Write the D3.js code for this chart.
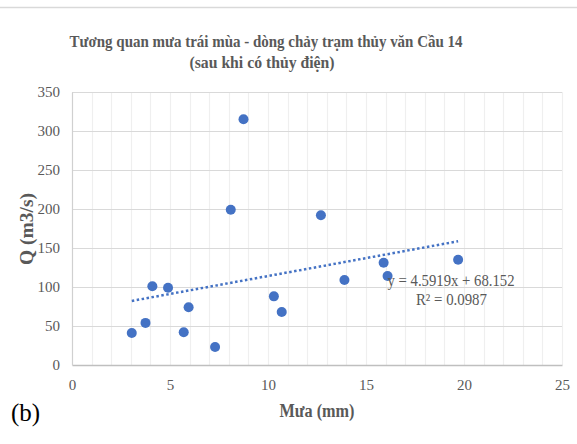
<!DOCTYPE html>
<html>
<head>
<meta charset="utf-8">
<script src="https://cdn.jsdelivr.net/npm/d3@7"></script>
<style>
  body { margin: 0; background: #fff; }
  text { font-family: "Liberation Serif", "Times New Roman", serif; }
</style>
</head>
<body>
<div id="chart"></div>
<script>
// DATA: rainfall (mm) vs discharge (m3/s)
const rain = [3.05, 3.75, 4.1, 4.9, 5.95, 5.7, 7.3, 8.1, 8.75, 10.3, 10.7, 12.7, 13.9, 15.9, 16.1, 19.7];
const flow = [41, 54, 101, 99, 74, 42, 23, 199, 315, 88, 68, 192, 109, 131, 114, 135];
const xTicks = [0, 5, 10, 15, 20, 25];
const yTicks = [0, 50, 100, 150, 200, 250, 300, 350];
const slope = 4.5919, intercept = 68.152;
const eqText = "y = 4.5919x + 68.152";
const r2Text = "R² = 0.0987";

const W = 577, H = 444;
const margin = { top: 92, right: 15, bottom: 79, left: 72 };
const width = W - margin.left - margin.right;
const height = H - margin.top - margin.bottom;

const svg = d3.select("#chart").append("svg")
    .attr("width", W).attr("height", H);

// outer frame top line
svg.append("line")
    .attr("x1", 0).attr("x2", W).attr("y1", 7.5).attr("y2", 7.5)
    .attr("stroke", "#d9d9d9").attr("stroke-width", 1.5);

const g = svg.append("g").attr("transform", `translate(${margin.left},${margin.top})`);

const x = d3.scaleLinear().domain([0, 25]).range([0, width]);
const y = d3.scaleLinear().domain([0, 350]).range([height, 0]);

// minor vertical gridlines
g.append("g").selectAll("line")
    .data(d3.range(1, 26))
    .join("line")
    .attr("x1", d => Math.round(x(d)) + 0.5).attr("x2", d => Math.round(x(d)) + 0.5)
    .attr("y1", 0).attr("y2", height)
    .attr("stroke", "#efefef").attr("stroke-width", 1.2);

// horizontal gridlines
g.append("g").selectAll("line")
    .data(yTicks.slice(1))
    .join("line")
    .attr("x1", 0).attr("x2", width)
    .attr("y1", d => Math.round(y(d)) + 0.5).attr("y2", d => Math.round(y(d)) + 0.5)
    .attr("stroke", "#d9d9d9").attr("stroke-width", 1.2);

// axes
const xAxis = g.append("g")
    .attr("transform", `translate(0,${height})`)
    .call(d3.axisBottom(x).tickValues(xTicks).tickSize(0).tickPadding(14));
xAxis.select(".domain").attr("stroke", "#bfbfbf").attr("stroke-width", 1.5);

const yAxis = g.append("g")
    .call(d3.axisLeft(y).tickValues(yTicks).tickSize(0).tickPadding(12));
yAxis.select(".domain").attr("stroke", "#d0d0d0").attr("stroke-width", 1.2);

g.selectAll(".tick text")
    .attr("font-family", "Liberation Serif, serif")
    .attr("font-size", 15)
    .attr("fill", "#595959");

// trendline (dotted)
const x0 = d3.min(rain), x1 = d3.max(rain);
g.append("path")
    .datum([x0, x1])
    .attr("fill", "none")
    .attr("stroke", "#4472c4")
    .attr("stroke-width", 2.5)
    .attr("stroke-dasharray", "2.5,2.5")
    .attr("d", d3.line().x(d => x(d)).y(d => y(slope * d + intercept)));

// points
g.selectAll("circle")
    .data(rain.map((r, i) => ({ r, q: flow[i] })))
    .join("circle")
    .attr("cx", d => x(d.r))
    .attr("cy", d => y(d.q))
    .attr("r", 5)
    .attr("fill", "#4472c4");

// equation
g.append("text")
    .attr("x", x(16.1)).attr("y", y(100) - 1)
    .attr("font-size", 16).attr("fill", "#595959")
    .attr("textLength", 127).attr("lengthAdjust", "spacingAndGlyphs")
    .text(eqText);
g.append("text")
    .attr("x", x(17.55)).attr("y", y(100) + 18)
    .attr("font-size", 16).attr("fill", "#595959")
    .attr("textLength", 71).attr("lengthAdjust", "spacingAndGlyphs")
    .text(r2Text);

// title
svg.append("text")
    .attr("x", 266).attr("y", 47)
    .attr("text-anchor", "middle")
    .attr("font-size", 17).attr("font-weight", "bold").attr("fill", "#595959")
    .attr("textLength", 393).attr("lengthAdjust", "spacingAndGlyphs")
    .text("Tương quan mưa trái mùa - dòng chảy trạm thủy văn Cầu 14");
svg.append("text")
    .attr("x", 262).attr("y", 68)
    .attr("text-anchor", "middle")
    .attr("font-size", 17).attr("font-weight", "bold").attr("fill", "#595959")
    .attr("textLength", 145).attr("lengthAdjust", "spacingAndGlyphs")
    .text("(sau khi có thủy điện)");

// axis labels
svg.append("text")
    .attr("x", margin.left + width / 2).attr("y", 417)
    .attr("text-anchor", "middle")
    .attr("font-size", 18).attr("font-weight", "bold").attr("fill", "#595959")
    .attr("textLength", 75).attr("lengthAdjust", "spacingAndGlyphs")
    .text("Mưa (mm)");

svg.append("text")
    .attr("transform", "rotate(-90)")
    .attr("x", -(margin.top + 137)).attr("y", 33)
    .attr("text-anchor", "middle")
    .attr("font-size", 18).attr("font-weight", "bold").attr("fill", "#595959")
    .attr("textLength", 72).attr("lengthAdjust", "spacingAndGlyphs")
    .text("Q (m3/s)");

// panel label
svg.append("text")
    .attr("x", 11).attr("y", 421)
    .attr("font-size", 25).attr("fill", "#000")
    .text("(b)");
</script>
</body>
</html>
